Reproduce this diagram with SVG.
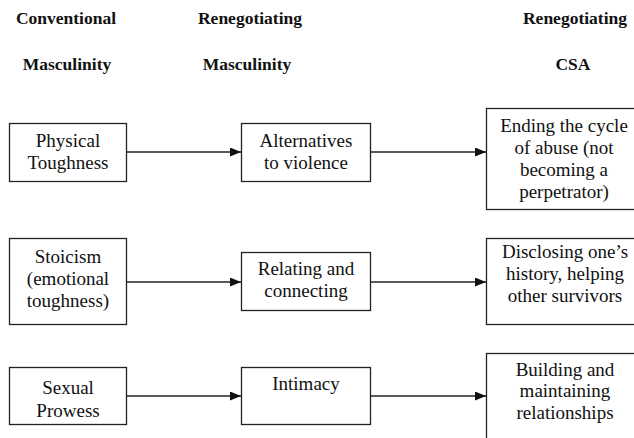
<svg xmlns="http://www.w3.org/2000/svg" width="634" height="438" viewBox="0 0 634 438">
<style>
.h{font-family:"Liberation Serif","Times New Roman",serif;font-weight:bold;font-size:17.5px;fill:#111;text-anchor:middle}
.t{font-family:"Liberation Serif","Times New Roman",serif;font-size:19px;fill:#111;text-anchor:middle}
.b{fill:#fff;stroke:#222;stroke-width:1.3}
.c{stroke:#222;stroke-width:1.3;fill:none}
</style>
<defs>
<marker id="ah" markerWidth="11" markerHeight="9" refX="11" refY="4.5" orient="auto" markerUnits="userSpaceOnUse">
<path d="M0,0 L11,4.5 L0,9 Z" fill="#111"/>
</marker>
</defs>
<rect width="634" height="438" fill="#fff"/>
<g id="headers">
<text class="h" x="66" y="24">Conventional</text>
<text class="h" x="67" y="70">Masculinity</text>
<text class="h" x="250" y="24">Renegotiating</text>
<text class="h" x="247" y="70">Masculinity</text>
<text class="h" x="575" y="24">Renegotiating</text>
<text class="h" x="573" y="70">CSA</text>
</g>
<g id="connectors">
<line class="c" x1="126" y1="152" x2="241" y2="152" marker-end="url(#ah)"/>
<line class="c" x1="370" y1="152" x2="486" y2="152" marker-end="url(#ah)"/>
<line class="c" x1="126" y1="282" x2="241" y2="282" marker-end="url(#ah)"/>
<line class="c" x1="370" y1="282" x2="486" y2="282" marker-end="url(#ah)"/>
<line class="c" x1="126" y1="396" x2="241" y2="396" marker-end="url(#ah)"/>
<line class="c" x1="370" y1="396" x2="486" y2="396" marker-end="url(#ah)"/>
</g>
<g id="physical">
<rect class="b" x="9.5" y="123.5" width="117" height="58"/>
<text class="t" x="68" y="147">Physical</text>
<text class="t" x="68" y="169">Toughness</text>
</g>
<g id="alternatives">
<rect class="b" x="241.5" y="123.5" width="129" height="58"/>
<text class="t" x="306" y="147">Alternatives</text>
<text class="t" x="306" y="169">to violence</text>
</g>
<g id="ending">
<rect class="b" x="486.5" y="108.5" width="156" height="101"/>
<text class="t" x="564" y="132">Ending the cycle</text>
<text class="t" x="564" y="154">of abuse (not</text>
<text class="t" x="564" y="176">becoming a</text>
<text class="t" x="564" y="198">perpetrator)</text>
</g>
<g id="stoicism">
<rect class="b" x="9.5" y="238.5" width="117" height="86"/>
<text class="t" x="68" y="263">Stoicism</text>
<text class="t" x="68" y="285">(emotional</text>
<text class="t" x="68" y="307">toughness)</text>
</g>
<g id="relating">
<rect class="b" x="241.5" y="252.5" width="129" height="58"/>
<text class="t" x="306" y="275">Relating and</text>
<text class="t" x="306" y="297">connecting</text>
</g>
<g id="disclosing">
<rect class="b" x="486.5" y="238.5" width="156" height="86"/>
<text class="t" x="565" y="258">Disclosing one’s</text>
<text class="t" x="565" y="280">history, helping</text>
<text class="t" x="565" y="302">other survivors</text>
</g>
<g id="sexual">
<rect class="b" x="9.5" y="367.5" width="117" height="57"/>
<text class="t" x="68" y="394">Sexual</text>
<text class="t" x="68" y="417">Prowess</text>
</g>
<g id="intimacy">
<rect class="b" x="241.5" y="367.5" width="129" height="57"/>
<text class="t" x="306" y="390">Intimacy</text>
</g>
<g id="building">
<rect class="b" x="486.5" y="353.5" width="156" height="90"/>
<text class="t" x="565" y="376">Building and</text>
<text class="t" x="565" y="397">maintaining</text>
<text class="t" x="565" y="419">relationships</text>
</g>
</svg>
